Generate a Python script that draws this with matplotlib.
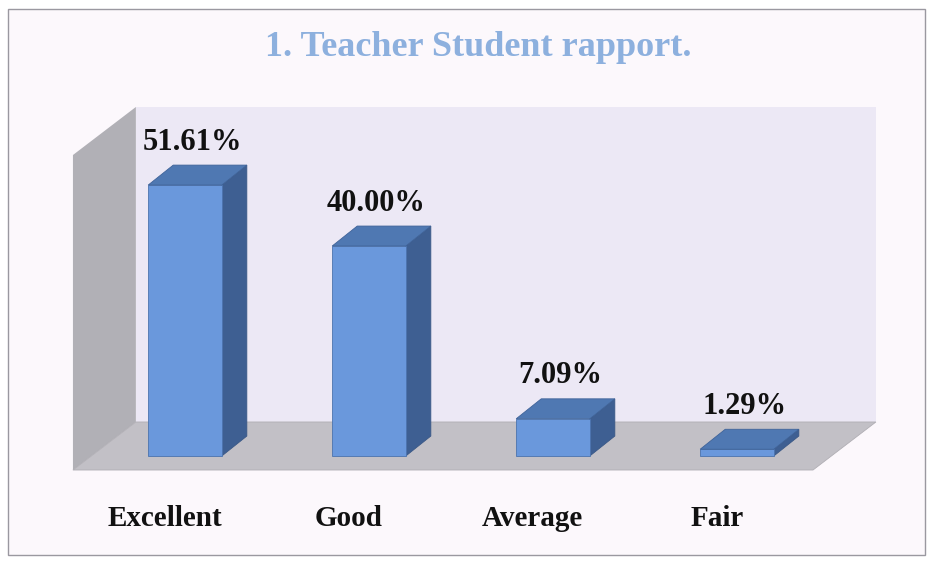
import matplotlib.pyplot as plt
from matplotlib.patches import Polygon, Rectangle

categories = ['Excellent', 'Good', 'Average', 'Fair']
values = [51.61, 40.00, 7.09, 1.29]
value_labels = ['51.61%', '40.00%', '7.09%', '1.29%']
title = '1. Teacher Student rapport.'

plt.rcParams['font.family'] = ['Liberation Serif', 'DejaVu Serif']

# colours
bg = '#fcf8fc'
wall_back = '#ece8f5'
wall_left = '#b1b0b6'
floor_col = '#c2c0c6'
c_front = '#6a98dc'
c_top = '#4f78b2'
c_side = '#3e5f92'

# fake 3d geometry (data units: x = category, y = percent)
bar_w = 0.40
bdx, bdy = 0.136, 3.8          # depth of one bar
wdx, wdy = 0.342, 9.15         # depth of the floor / walls
floor_y = -2.67                # front edge of the floor
floor_x0, floor_x1 = -0.609, 3.413
wall_h = 60

fig = plt.figure(figsize=(9.33, 5.62), dpi=100)
fig.patch.set_facecolor('white')
ax = fig.add_axes([0, 0, 1, 1])
ax.set_xlim(-185 / 184, (933 - 185) / 184)
ax.set_ylim(-106 / 5.25, 456 / 5.25)
ax.axis('off')

# outer frame
ax.add_patch(Rectangle((8 / 933, 7 / 562), 917 / 933, 546 / 562,
                       transform=fig.transFigure, facecolor=bg,
                       edgecolor='#9a98a0', lw=1.0, zorder=0))

# walls and floor
bx0, by0 = floor_x0 + wdx, floor_y + wdy
bx1 = floor_x1 + wdx
ax.add_patch(Polygon([(bx0, by0), (bx1, by0), (bx1, by0 + wall_h), (bx0, by0 + wall_h)],
                     closed=True, facecolor=wall_back, edgecolor='none', zorder=1))
ax.add_patch(Polygon([(floor_x0, floor_y), (bx0, by0), (bx0, by0 + wall_h),
                      (floor_x0, floor_y + wall_h)],
                     closed=True, facecolor=wall_left, edgecolor='none', zorder=1))
ax.add_patch(Polygon([(floor_x0, floor_y), (floor_x1, floor_y), (bx1, by0), (bx0, by0)],
                     closed=True, facecolor=floor_col, edgecolor='#b0aeb4', lw=0.6, zorder=2))

x = list(range(len(categories)))
ax.bar(x, values, width=bar_w, color=c_front, edgecolor='#4c74ae', lw=0.6, zorder=4)

for xi, v, lab in zip(x, values, value_labels):
    l, r = xi - bar_w / 2, xi + bar_w / 2
    top = [(l, v), (r, v), (r + bdx, v + bdy), (l + bdx, v + bdy)]
    side = [(r, 0), (r + bdx, bdy), (r + bdx, v + bdy), (r, v)]
    ax.add_patch(Polygon(side, closed=True, facecolor=c_side, edgecolor='#3a5886',
                         lw=0.6, zorder=3))
    ax.add_patch(Polygon(top, closed=True, facecolor=c_top, edgecolor='#3f6399',
                         lw=0.6, zorder=5))
    ax.text(xi + 0.04, v + bdy + 1.6, lab, ha='center', va='bottom',
            fontsize=22, fontweight='bold', color='#111111', zorder=6)

for xi, cat in zip(x, categories):
    ax.text(xi - 0.11, -12.0, cat, ha='center', va='center',
            fontsize=21, fontweight='bold', color='#111111')

fig.text(478 / 933, 1 - 48 / 562, title, ha='center', va='center',
         fontsize=26, fontweight='bold', color='#8db0de')

fig.savefig('out.png', dpi=100, facecolor=fig.get_facecolor())
